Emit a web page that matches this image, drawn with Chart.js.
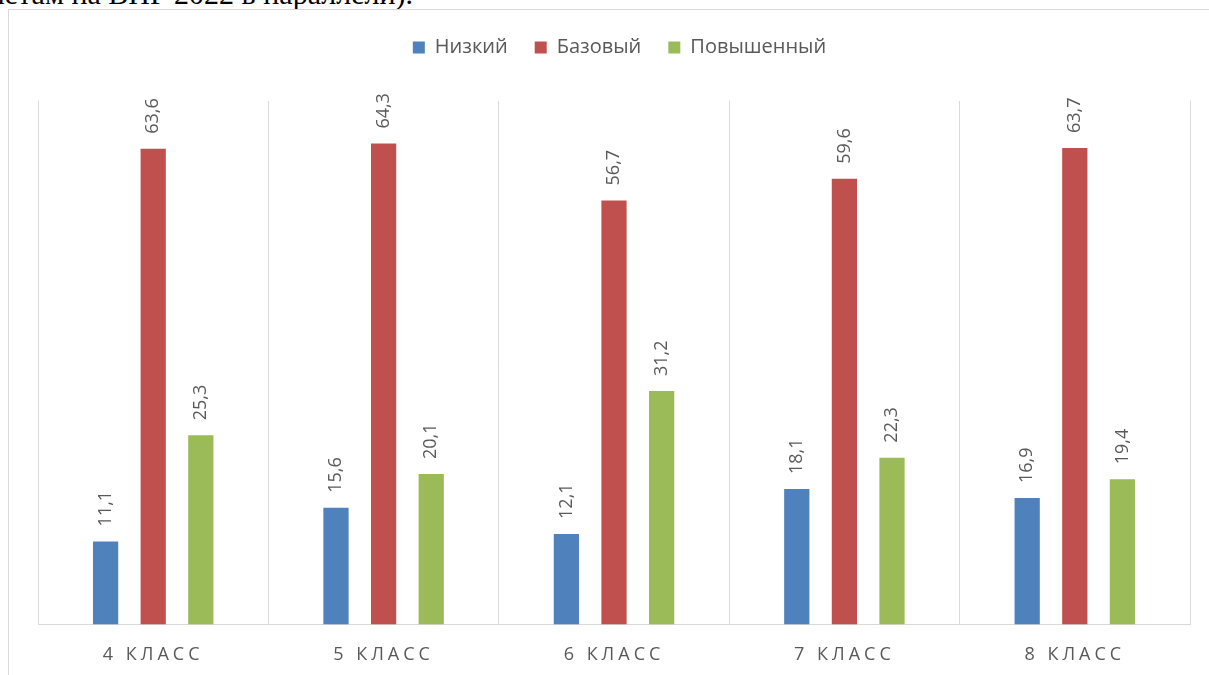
<!DOCTYPE html>
<html>
<head>
<meta charset="utf-8">
<script src="https://cdn.jsdelivr.net/npm/chart.js@4.4.0/dist/chart.umd.min.js"></script>
<style>
  html, body { margin: 0; padding: 0; background: #fff; overflow: hidden; }
  body { width: 1209px; height: 675px; position: relative; }
  #caption {
    position: absolute; right: 796px; top: -21px; width: max-content;
    white-space: nowrap;
    font: 30px/30px "Liberation Serif", serif; color: #000;
  }
  #frame {
    position: absolute; left: 8px; top: 9px; width: 1300px; height: 800px;
    border-left: 1px solid #d9d9d9; border-top: 1px solid #d9d9d9;
  }
  #chart { position: absolute; left: 0; top: 0; }
</style>
</head>
<body>
<div id="caption">предметам на ВПР 2022 в параллели).</div>
<div id="frame"></div>
<canvas id="chart" width="1209" height="700"></canvas>
<script>
let categories = ['4 КЛАСС', '5 КЛАСС', '6 КЛАСС', '7 КЛАСС', '8 КЛАСС'];
let lowValues = [11.1, 15.6, 12.1, 18.1, 16.9];
let baseValues = [63.6, 64.3, 56.7, 59.6, 63.7];
let highValues = [25.3, 20.1, 31.2, 22.3, 19.4];
let seriesNames = ['Низкий', 'Базовый', 'Повышенный'];
let seriesColors = ['#4f81bd', '#c0504d', '#9bbb59'];

let textColor = '#595959';
let fontFamily = '"Open Sans", sans-serif';

// vertical value labels above the bars, then letter spacing for the x labels
let barLabels = {
  id: 'barLabels',
  afterDatasetsDraw(chart){
    let ctx = chart.ctx;
    ctx.save();
    ctx.font = '18px ' + fontFamily;
    ctx.fillStyle = textColor;
    ctx.textAlign = 'left';
    ctx.textBaseline = 'middle';
    chart.data.datasets.forEach((ds, i) => {
      chart.getDatasetMeta(i).data.forEach((bar, j) => {
        let txt = ds.data[j].toFixed(1).replace('.', ',');
        ctx.save();
        ctx.translate(bar.x, bar.y - 15);
        ctx.rotate(-Math.PI / 2);
        ctx.fillText(txt, 0, 0);
        ctx.restore();
      });
    });
    ctx.restore();
    ctx.letterSpacing = '4px';
  },
  afterDraw(chart){
    chart.ctx.letterSpacing = '0px';
  }
};

new Chart('chart', {
  type: 'bar',
  data: {
    labels: categories,
    datasets: [
      { label: seriesNames[0], data: lowValues, backgroundColor: seriesColors[0] },
      { label: seriesNames[1], data: baseValues, backgroundColor: seriesColors[1] },
      { label: seriesNames[2], data: highValues, backgroundColor: seriesColors[2] }
    ]
  },
  options: {
    responsive: false,
    animation: false,
    categoryPercentage: 0.62,
    barPercentage: 0.53,
    layout: { padding: { left: 38, right: 8, top: 10.5, bottom: 14 } },
    plugins: {
      legend: {
        display: true,
        position: 'top',
        labels: {
          boxWidth: 12,
          boxHeight: 12,
          padding: 27,
          color: textColor,
          font: { family: fontFamily, size: 20 }
        }
      },
      title: {
        display: true,
        text: '',
        weight: 500,
        font: { size: 10, lineHeight: 1 },
        padding: { top: 0, bottom: 23.5 }
      },
      tooltip: { enabled: false }
    },
    scales: {
      x: {
        grid: { display: true, color: '#d9d9d9', drawTicks: false, offset: true },
        border: { display: true, color: '#d9d9d9' },
        ticks: {
          z: 1,
          padding: 20,
          color: textColor,
          font: { family: fontFamily, size: 18 }
        }
      },
      y: {
        position: 'right',
        min: 0,
        max: 70,
        grid: { display: false },
        border: { display: false },
        ticks: { display: false },
        afterFit: (scale) => { scale.width = 11; }
      }
    }
  },
  plugins: [barLabels]
});
</script>
</body>
</html>
